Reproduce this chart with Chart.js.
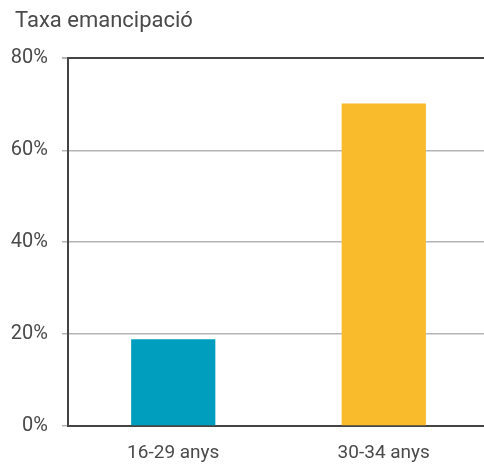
<!DOCTYPE html>
<html>
<head>
<meta charset="utf-8">
<script src="https://cdn.jsdelivr.net/npm/chart.js@4/dist/chart.umd.min.js"></script>
<style>
  html, body { margin: 0; padding: 0; background: #fff; overflow: hidden; }
  #wrap { width: 489px; height: 464px; }
</style>
</head>
<body>
<div id="wrap"><canvas id="chart"></canvas></div>
<script>
const categories = ['16-29 anys', '30-34 anys'];
const emancipationRate = [18.9, 70.2];
const barColors = ['#009ebe', '#f9ba2b'];
const yTicks = [0, 20, 40, 60, 80];

const textColor = '#4a4a4a';
const fontFamily = 'Roboto, "Noto Sans", sans-serif';

// nudge the title a bit to the right of the y tick labels
const titleShift = {
    id: 'titleShift',
    afterLayout(chart) {
        if (chart.titleBlock) {
            chart.titleBlock.left += 7;
            chart.titleBlock.right += 7;
        }
    }
};

const ctx = document.getElementById('chart').getContext('2d');
new Chart(ctx, {
    type: 'bar',
    data: {
        labels: categories,
        datasets: [{
            label: 'Taxa emancipació',
            data: emancipationRate,
            backgroundColor: barColors,
            barPercentage: 0.4,
            categoryPercentage: 1
        }]
    },
    plugins: [titleShift],
    options: {
        responsive: true,
        maintainAspectRatio: false,
        animation: false,
        layout: {
            padding: { left: 8, right: 0, top: 8, bottom: 0 }
        },
        plugins: {
            legend: { display: false },
            tooltip: { enabled: false },
            title: {
                display: true,
                text: 'Taxa emancipació',
                align: 'start',
                color: textColor,
                font: { family: fontFamily, size: 22, weight: 'normal' },
                padding: { top: 0, bottom: 24 }
            }
        },
        scales: {
            x: {
                grid: { display: false, drawTicks: false },
                border: { display: true, color: '#444', width: 2 },
                afterFit: (scale) => { scale.height = 38; },
                ticks: {
                    color: textColor,
                    padding: 16,
                    font: { family: fontFamily, size: 19 }
                }
            },
            y: {
                min: 0,
                max: 80,
                afterFit: (scale) => { scale.width = 60; },
                afterBuildTicks: (scale) => { scale.ticks = yTicks.map(v => ({ value: v })); },
                border: { display: true, color: '#444', width: 2 },
                grid: {
                    color: (c) => c.tick && c.tick.value === 80 ? '#444' : '#b5b5b5',
                    lineWidth: (c) => c.tick && c.tick.value === 80 ? 2 : 1.5,
                    tickColor: '#b5b5b5',
                    tickLength: 6
                },
                ticks: {
                    color: textColor,
                    padding: 14,
                    font: { family: fontFamily, size: 20 },
                    callback: (v) => v + '%'
                }
            }
        }
    }
});
</script>
</body>
</html>
